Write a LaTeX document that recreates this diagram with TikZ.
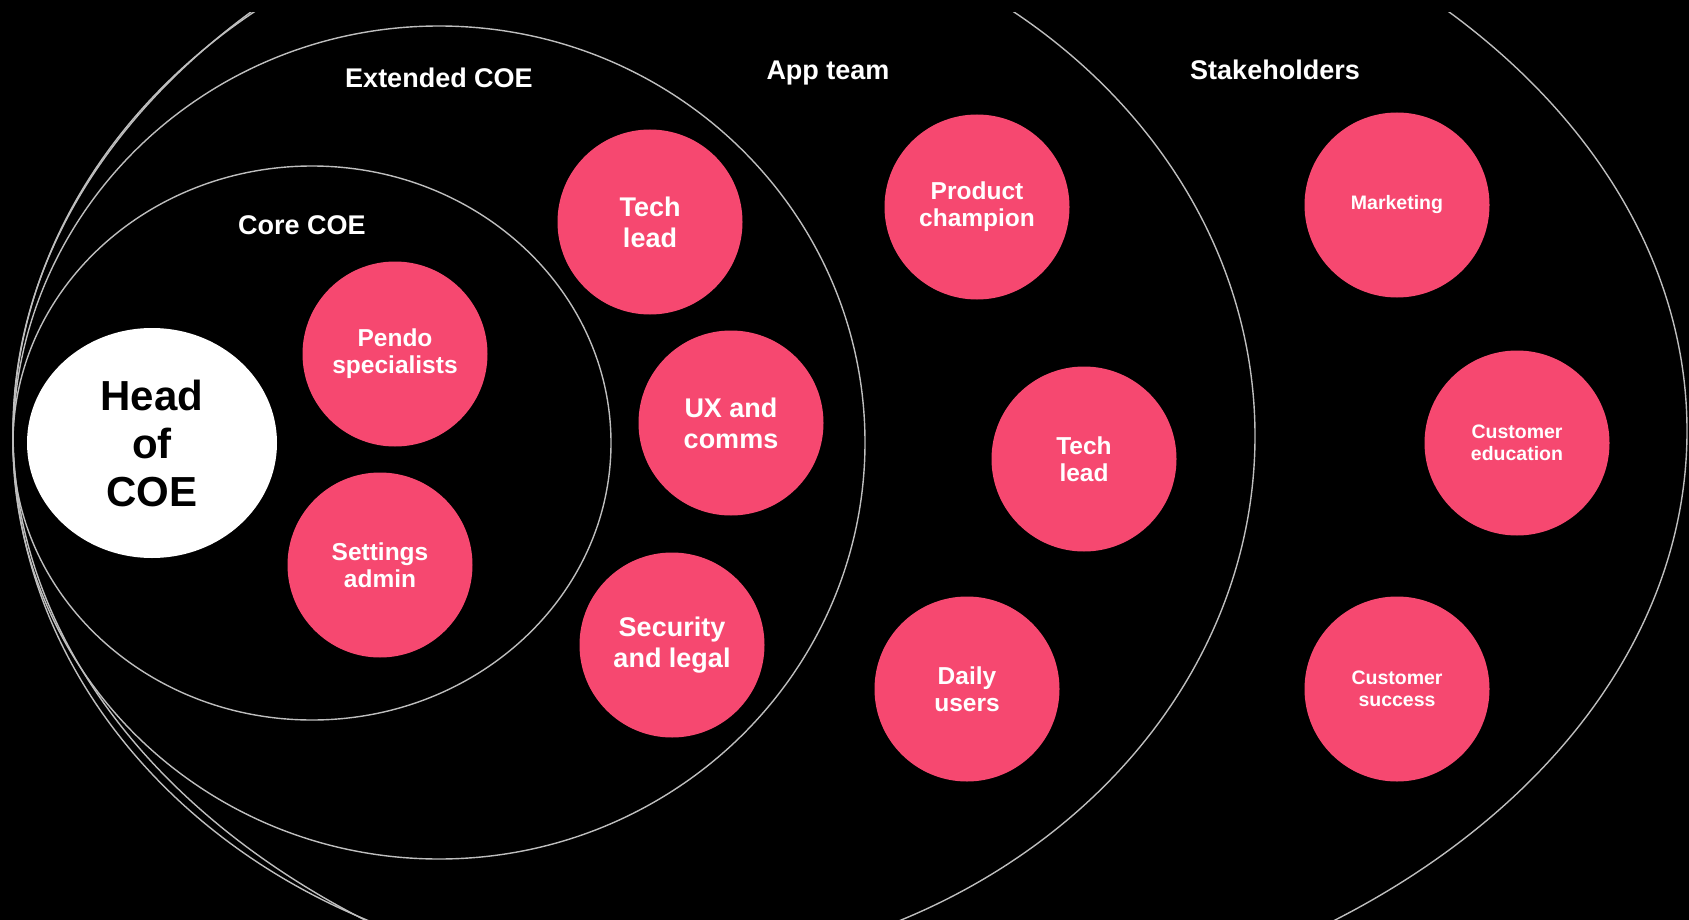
\documentclass[tikz,border=0pt]{standalone}
\usepackage{fontspec}
\setmainfont{Liberation Sans}
\usetikzlibrary{shapes.geometric}
\definecolor{pinkc}{RGB}{246,72,112}
\definecolor{ringc}{RGB}{190,190,190}
\tikzset{
  ring/.style={draw=ringc, line width=1.4pt},
  ringlabel/.style={text=white, anchor=base, font=\fontsize{27}{31}\selectfont\bfseries},
  pinkcirc/.style={circle, fill=pinkc, minimum size=185pt, inner sep=0pt, text=white, align=center},
  bigtxt/.style={font=\fontsize{27}{31}\selectfont\bfseries},
  midtxt/.style={font=\fontsize{24.5}{27}\selectfont\bfseries},
  smalltxt/.style={font=\fontsize{19.5}{22}\selectfont\bfseries},
  headcirc/.style={ellipse, fill=white, minimum width=250pt, minimum height=230pt, inner sep=0pt, text=black, align=center, font=\fontsize{42}{48}\selectfont\bfseries}
}
\begin{document}
\begin{tikzpicture}[x=1pt,y=-1pt]
\useasboundingbox (0,0) rectangle (1689,920);
\fill[black] (0,0) rectangle (1689,920);
\begin{scope}
\clip (0,13) rectangle (1689,920);
\draw[ring] (312,443) ellipse [x radius=299pt, y radius=277pt];
\draw[ring] (439,442.5) ellipse [x radius=426pt, y radius=416.5pt];
\draw[ring] (634,436) ellipse [x radius=621pt, y radius=536pt];
\draw[ring] (850,431) ellipse [x radius=837pt, y radius=600pt];
\end{scope}
% ring labels
\node[ringlabel] (lcore) at (302,235) {Core COE};
\node[ringlabel] (lext) at (439,88) {Extended COE};
\node[ringlabel] (lapp) at (828,80) {App team};
\node[ringlabel] (lstake) at (1275,80) {Stakeholders};
% head
\node[headcirc] (head) at (152,443) {Head\\of\\COE};
% core
\node[pinkcirc, midtxt] (pendo) at (395,354) {Pendo\\specialists};
\node[pinkcirc, midtxt] (settings) at (380,565) {Settings\\admin};
% extended
\node[pinkcirc, bigtxt] (techext) at (650,222) {Tech\\lead};
\node[pinkcirc, bigtxt] (ux) at (731,423) {UX and\\comms};
\node[pinkcirc, bigtxt] (security) at (672,645) {Security\\and legal};
% app team
\node[pinkcirc, midtxt] (champion) at (977,207) {Product\\champion};
\node[pinkcirc, midtxt] (techapp) at (1084,459) {Tech\\lead};
\node[pinkcirc, midtxt] (daily) at (967,689) {Daily\\users};
% stakeholders
\node[pinkcirc, smalltxt] (marketing) at (1397,205) {Marketing};
\node[pinkcirc, smalltxt] (education) at (1517,443) {Customer\\education};
\node[pinkcirc, smalltxt] (success) at (1397,689) {Customer\\success};
\end{tikzpicture}
\end{document}
